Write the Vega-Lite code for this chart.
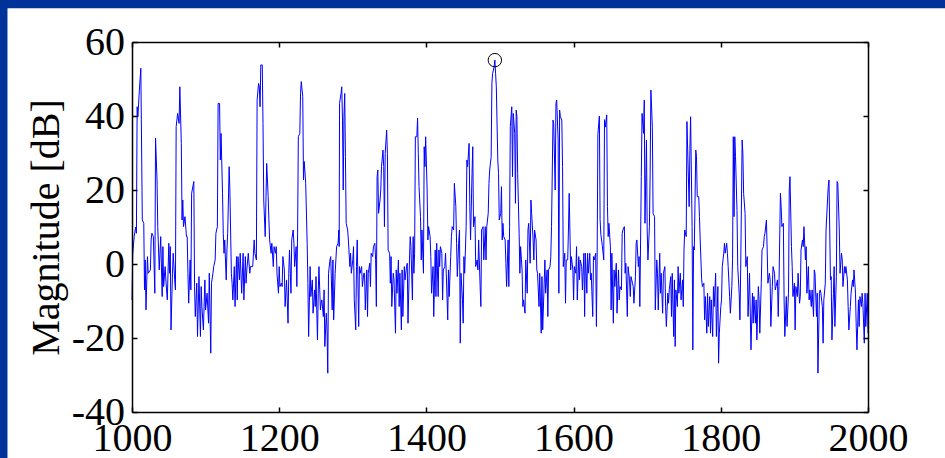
{
  "$schema": "https://vega.github.io/schema/vega-lite/v6.json",
  "width": 736,
  "height": 370,
  "autosize": {"type": "none"},
  "padding": {"left": 132, "top": 42, "right": 77, "bottom": 46},
  "background": "#003399",
  "config": {
    "view": {"stroke": null},
    "axis": {
      "grid": false,
      "domainColor": "black",
      "domainWidth": 1.5,
      "tickColor": "black",
      "tickWidth": 1.5,
      "tickSize": -5,
      "labelFont": "Liberation Serif",
      "labelFontSize": 40,
      "labelColor": "black",
      "labelFlush": false,
      "labelOverlap": false,
      "titleFont": "Liberation Serif",
      "titleFontSize": 40,
      "titleFontWeight": "normal",
      "titleColor": "black"
    }
  },
  "datasets": {
    "spectrum": [
{"f":1000,"m":-9.7},{"f":1001,"m":2.9},{"f":1003,"m":7.4},{"f":1005,"m":10},{"f":1006,"m":8.3},{"f":1007,"m":42.5},{"f":1008,"m":39.8},{"f":1010,"m":47},{"f":1012,"m":52.9},{"f":1014,"m":11.9},{"f":1016,"m":11},{"f":1017,"m":-7},{"f":1018,"m":1.1},{"f":1019,"m":-12.4},{"f":1021,"m":2},{"f":1022,"m":-2.5},{"f":1025,"m":-1.6},{"f":1026,"m":6.5},{"f":1027,"m":8.3},{"f":1029,"m":7.4},{"f":1031,"m":-7.9},{"f":1032,"m":34},{"f":1034,"m":22.7},{"f":1035,"m":10.1},{"f":1037,"m":-1.6},{"f":1039,"m":7.4},{"f":1041,"m":-8.8},{"f":1042,"m":4.7},{"f":1043,"m":-6.1},{"f":1045,"m":-0.7},{"f":1046,"m":-4.3},{"f":1048,"m":-9.7},{"f":1050,"m":5.6},{"f":1051,"m":-2.5},{"f":1052,"m":4.7},{"f":1053,"m":-17.8},{"f":1055,"m":-2.5},{"f":1056,"m":2.9},{"f":1058,"m":-4.3},{"f":1059,"m":-7},{"f":1060,"m":37.1},{"f":1062,"m":40.7},{"f":1064,"m":38},{"f":1065,"m":47.9},{"f":1067,"m":32.6},{"f":1068,"m":11.9},{"f":1069,"m":17.3},{"f":1070,"m":10.1},{"f":1072,"m":12.8},{"f":1074,"m":7.4},{"f":1075,"m":7.4},{"f":1076,"m":-2.5},{"f":1077,"m":-10.6},{"f":1079,"m":1.1},{"f":1080,"m":-7},{"f":1081,"m":19.1},{"f":1084,"m":22.3},{"f":1085,"m":-6.1},{"f":1086,"m":-14.2},{"f":1088,"m":-5.2},{"f":1089,"m":-19.6},{"f":1091,"m":-3.4},{"f":1093,"m":-19.6},{"f":1094,"m":-6.1},{"f":1095,"m":-11.5},{"f":1097,"m":-17.8},{"f":1099,"m":-4.3},{"f":1100,"m":-12.4},{"f":1102,"m":-7.9},{"f":1104,"m":-16},{"f":1105,"m":-2.5},{"f":1107,"m":-24.1},{"f":1108,"m":-5.2},{"f":1110,"m":-2.5},{"f":1111,"m":-0.7},{"f":1113,"m":1.1},{"f":1114,"m":8.3},{"f":1116,"m":10.1},{"f":1117,"m":43.4},{"f":1119,"m":43.4},{"f":1120,"m":28.1},{"f":1121,"m":35.3},{"f":1123,"m":19.1},{"f":1124,"m":8.3},{"f":1125,"m":2.9},{"f":1126,"m":6.5},{"f":1128,"m":-4.3},{"f":1129,"m":3.8},{"f":1130,"m":8.3},{"f":1132,"m":26.3},{"f":1133,"m":20},{"f":1135,"m":-2.5},{"f":1136,"m":-5.2},{"f":1137,"m":-9.7},{"f":1139,"m":-0.7},{"f":1140,"m":-11.5},{"f":1142,"m":2},{"f":1143,"m":-9.7},{"f":1144,"m":2},{"f":1146,"m":-4.3},{"f":1147,"m":2.9},{"f":1149,"m":-7.9},{"f":1151,"m":2.9},{"f":1152,"m":-9.7},{"f":1154,"m":2},{"f":1155,"m":-5.2},{"f":1156,"m":-1.6},{"f":1158,"m":2.9},{"f":1160,"m":-2.5},{"f":1161,"m":-0.7},{"f":1163,"m":-0.7},{"f":1164,"m":-0.7},{"f":1166,"m":6.5},{"f":1167,"m":2.9},{"f":1169,"m":1.1},{"f":1170,"m":44.3},{"f":1172,"m":48.8},{"f":1173,"m":47.9},{"f":1174,"m":42.5},{"f":1175,"m":53.8},{"f":1177,"m":53.8},{"f":1178,"m":38},{"f":1179,"m":17.3},{"f":1181,"m":7.4},{"f":1182,"m":17.3},{"f":1183,"m":27.2},{"f":1185,"m":18.2},{"f":1186,"m":11.9},{"f":1187,"m":6.5},{"f":1189,"m":2.9},{"f":1190,"m":5.6},{"f":1192,"m":-0.7},{"f":1193,"m":4.7},{"f":1195,"m":2.9},{"f":1196,"m":4.7},{"f":1197,"m":-2.5},{"f":1199,"m":-7.9},{"f":1200,"m":-0.7},{"f":1201,"m":-6.1},{"f":1203,"m":-5.2},{"f":1204,"m":-6.1},{"f":1205,"m":2},
{"f":1207,"m":-1.6},{"f":1208,"m":-11.5},{"f":1210,"m":-4.3},{"f":1212,"m":-16},{"f":1213,"m":-2.5},{"f":1214,"m":3.8},{"f":1216,"m":-7.9},{"f":1217,"m":6.5},{"f":1219,"m":9.2},{"f":1220,"m":5.6},{"f":1221,"m":-0.7},{"f":1223,"m":4.7},{"f":1224,"m":-6.1},{"f":1225,"m":8.3},{"f":1226,"m":34.4},{"f":1228,"m":35.3},{"f":1229,"m":46.1},{"f":1230,"m":49.3},{"f":1232,"m":45.2},{"f":1233,"m":22.7},{"f":1234,"m":27.7},{"f":1236,"m":21.8},{"f":1238,"m":5.6},{"f":1239,"m":-5.2},{"f":1240,"m":-19.6},{"f":1242,"m":-0.7},{"f":1243,"m":-8.8},{"f":1245,"m":-4.3},{"f":1246,"m":-13.3},{"f":1248,"m":-7},{"f":1249,"m":-11.5},{"f":1250,"m":-3.4},{"f":1252,"m":-20.5},{"f":1253,"m":-7.9},{"f":1254,"m":-0.7},{"f":1256,"m":-12.4},{"f":1257,"m":-10.6},{"f":1258,"m":-9.7},{"f":1260,"m":-14.2},{"f":1261,"m":-7},{"f":1262,"m":-22.3},{"f":1264,"m":-13.3},{"f":1265,"m":-17.8},{"f":1266,"m":-29.5},{"f":1267,"m":-2.5},{"f":1269,"m":1.1},{"f":1270,"m":2},{"f":1272,"m":-12.4},{"f":1273,"m":1.1},{"f":1274,"m":-15.1},{"f":1276,"m":-2.5},{"f":1277,"m":1.1},{"f":1278,"m":4.7},{"f":1280,"m":5.6},{"f":1281,"m":9.2},{"f":1281.5,"m":4.7},{"f":1282,"m":43.4},{"f":1284,"m":46.1},{"f":1285,"m":47.9},{"f":1286,"m":38.9},{"f":1287,"m":20},{"f":1288,"m":39.8},{"f":1289,"m":46.1},{"f":1290,"m":29},{"f":1291,"m":11},{"f":1293,"m":9.2},{"f":1294,"m":6.5},{"f":1296,"m":-0.7},{"f":1297,"m":2.9},{"f":1298,"m":-2.5},{"f":1300,"m":1.1},{"f":1301,"m":4.7},{"f":1302,"m":-9.7},{"f":1304,"m":-17.8},{"f":1305,"m":-0.7},{"f":1306,"m":6.5},{"f":1308,"m":-16.9},{"f":1309,"m":-0.7},{"f":1310,"m":-2.5},{"f":1312,"m":-0.7},{"f":1313,"m":-6.1},{"f":1315,"m":-2.5},{"f":1316,"m":-2.5},{"f":1317,"m":-12.4},{"f":1319,"m":-1.6},{"f":1320,"m":-14.2},{"f":1321,"m":-2.5},{"f":1323,"m":0.2},{"f":1324,"m":-6.1},{"f":1325,"m":2.9},{"f":1327,"m":2},{"f":1328,"m":4.7},{"f":1330,"m":5.6},{"f":1331,"m":1.1},{"f":1332,"m":-11.5},{"f":1333,"m":23.6},{"f":1334,"m":25.4},{"f":1335,"m":13.7},{"f":1337,"m":17.3},{"f":1338,"m":20},{"f":1339,"m":26.3},{"f":1341,"m":30.8},{"f":1342,"m":26.3},{"f":1343,"m":10.1},{"f":1344,"m":29.9},{"f":1346,"m":36.2},{"f":1347,"m":29.9},{"f":1348,"m":3.8},{"f":1350,"m":2.9},{"f":1351,"m":-5.2},{"f":1352,"m":2},{"f":1353,"m":-11.5},{"f":1355,"m":-2.5},{"f":1356,"m":-4.3},{"f":1358,"m":-18.7},{"f":1359,"m":-1.6},{"f":1360,"m":-7.9},{"f":1362,"m":1.1},{"f":1363,"m":-11.5},{"f":1364,"m":-2.5},{"f":1366,"m":-17.8},{"f":1367,"m":-1.6},{"f":1368,"m":-14.2},{"f":1370,"m":-0.7},{"f":1371,"m":-4.3},{"f":1373,"m":-0.7},{"f":1374,"m":0.2},{"f":1375,"m":-16},{"f":1377,"m":1.1},{"f":1378,"m":7.4},{"f":1379,"m":4.7},{"f":1381,"m":-9.7},{"f":1382,"m":7.4},{"f":1383,"m":-2.5},{"f":1384,"m":2.9},{"f":1385,"m":34.4},{"f":1387,"m":34.4},{"f":1388,"m":39.4},{"f":1389,"m":29.9},{"f":1390,"m":20.9},{"f":1392,"m":12.8},{"f":1393,"m":1.1},{"f":1394,"m":9.2},{"f":1396,"m":-2.5},{"f":1397,"m":31.7},{"f":1398,"m":26.3},{"f":1399,"m":34.4},{"f":1401,"m":20},{"f":1402,"m":6.5},{"f":1403,"m":10.1},{"f":1405,"m":7.4},{"f":1406,"m":2},{"f":1407,"m":-7.9},{"f":1409,"m":-0.7},{"f":1410,"m":-14.2},{"f":1412,"m":3.8},{"f":1413,"m":-8.8},{"f":1414,"m":5.6},{"f":1416,"m":-8.8},{"f":1417,"m":3.8},
{"f":1418,"m":-0.7},{"f":1419,"m":4.7},{"f":1421,"m":2.9},{"f":1422,"m":-9.7},{"f":1423,"m":-1.6},{"f":1425,"m":-0.7},{"f":1426,"m":2.9},{"f":1427,"m":-2.5},{"f":1429,"m":-15.1},{"f":1430,"m":-1.6},{"f":1431,"m":-8.8},{"f":1433,"m":2},{"f":1434,"m":7.4},{"f":1435,"m":10.1},{"f":1437,"m":9.2},{"f":1438,"m":21.8},{"f":1440,"m":15.5},{"f":1441,"m":5.6},{"f":1442,"m":-3.4},{"f":1444,"m":6.5},{"f":1445,"m":9.2},{"f":1446,"m":-21.4},{"f":1447,"m":-2.5},{"f":1449,"m":-9.7},{"f":1450,"m":-16},{"f":1451,"m":2},{"f":1452,"m":-2.5},{"f":1454,"m":10.1},{"f":1455,"m":28.1},{"f":1456,"m":26.3},{"f":1458,"m":32.6},{"f":1459,"m":15.5},{"f":1460,"m":6.5},{"f":1462,"m":24.5},{"f":1463,"m":31.7},{"f":1464,"m":10.1},{"f":1466,"m":12.8},{"f":1467,"m":-0.7},{"f":1469,"m":1.1},{"f":1470,"m":-1.6},{"f":1471,"m":6.5},{"f":1473,"m":-6.1},{"f":1474,"m":-11.5},{"f":1475,"m":9.2},{"f":1477,"m":10.1},{"f":1478,"m":1.1},{"f":1480,"m":10.1},{"f":1481,"m":1.1},{"f":1482,"m":10.1},{"f":1484,"m":13.7},{"f":1485,"m":21.8},{"f":1486,"m":25.4},{"f":1488,"m":29},{"f":1489,"m":48.8},{"f":1490,"m":51.5},{"f":1492,"m":53.3},{"f":1493,"m":55.1},{"f":1494,"m":51.5},{"f":1495,"m":47.9},{"f":1497,"m":28.1},{"f":1498,"m":24.5},{"f":1499,"m":11.9},{"f":1501,"m":13.7},{"f":1502,"m":20.9},{"f":1503,"m":6.5},{"f":1504,"m":11},{"f":1505,"m":7.4},{"f":1507,"m":6.5},{"f":1508,"m":0.2},{"f":1509,"m":-6.1},{"f":1511,"m":6.5},{"f":1512,"m":-6.1},{"f":1513,"m":10.1},{"f":1514,"m":37.1},{"f":1516,"m":42.5},{"f":1517,"m":23.6},{"f":1518,"m":40.7},{"f":1520,"m":35.3},{"f":1521,"m":16.4},{"f":1522,"m":41.6},{"f":1523,"m":39.8},{"f":1524,"m":24.5},{"f":1526,"m":8.3},{"f":1527,"m":-2.5},{"f":1528,"m":4.7},{"f":1530,"m":-1.6},{"f":1531,"m":-11.5},{"f":1532,"m":-9.7},{"f":1534,"m":-13.3},{"f":1535,"m":1.1},{"f":1537,"m":-7.9},{"f":1538,"m":9.2},{"f":1539,"m":11},{"f":1541,"m":0.2},{"f":1542,"m":17.3},{"f":1543,"m":13.7},{"f":1545,"m":6.5},{"f":1546,"m":1.1},{"f":1547,"m":9.2},{"f":1549,"m":6.5},{"f":1550,"m":-1.6},{"f":1551,"m":-2.5},{"f":1553,"m":-11.5},{"f":1554,"m":-2.5},{"f":1556,"m":-18.7},{"f":1557,"m":-3.4},{"f":1558,"m":-17.8},{"f":1560,"m":-5.2},{"f":1561,"m":1.1},{"f":1562,"m":-7.9},{"f":1564,"m":-1.6},{"f":1565,"m":-14.2},{"f":1566,"m":-1.6},{"f":1568,"m":-0.7},{"f":1569,"m":2},{"f":1570,"m":10.1},{"f":1572,"m":38.9},{"f":1573,"m":38},{"f":1575,"m":20},{"f":1576,"m":43.4},{"f":1577,"m":44.3},{"f":1579,"m":33.5},{"f":1580,"m":-7.9},{"f":1581,"m":41.6},{"f":1582,"m":39.8},{"f":1584,"m":38.9},{"f":1585,"m":26.3},{"f":1586,"m":-0.7},{"f":1588,"m":2.9},{"f":1589,"m":-10.6},{"f":1590,"m":1.1},{"f":1592,"m":1.1},{"f":1593,"m":9.2},{"f":1594,"m":19.1},{"f":1596,"m":-1.6},{"f":1597,"m":2},{"f":1599,"m":-1.6},{"f":1600,"m":-9.7},{"f":1601,"m":-0.7},{"f":1603,"m":-2.5},{"f":1604,"m":4.7},{"f":1605,"m":-9.7},{"f":1607,"m":2},{"f":1608,"m":-4.3},{"f":1609,"m":1.1},{"f":1611,"m":-0.7},{"f":1612,"m":-7},{"f":1614,"m":2.9},{"f":1615,"m":-14.2},{"f":1616,"m":2.9},{"f":1618,"m":-7.9},{"f":1619,"m":2.9},{"f":1620,"m":-2.5},{"f":1622,"m":2.9},{"f":1623,"m":-4.3},{"f":1624,"m":-2.5},{"f":1626,"m":-14.2},{"f":1627,"m":2},{"f":1628,"m":1.1},{"f":1630,"m":2.9},{"f":1631,"m":-16.9},{"f":1632,"m":2},
{"f":1633,"m":35},{"f":1635,"m":40},{"f":1636,"m":12},{"f":1637,"m":8},{"f":1639,"m":5},{"f":1641,"m":1.1},{"f":1642,"m":39},{"f":1643,"m":37},{"f":1645,"m":40.3},{"f":1646,"m":15.5},{"f":1647,"m":7.4},{"f":1648,"m":11},{"f":1650,"m":4.7},{"f":1651,"m":-12.4},{"f":1652,"m":2.9},{"f":1654,"m":-16},{"f":1655,"m":-1.6},{"f":1656,"m":-6.1},{"f":1658,"m":0.2},{"f":1659,"m":-13.3},{"f":1661,"m":-1.6},{"f":1662,"m":-9.7},{"f":1663,"m":-6.1},{"f":1665,"m":-7},{"f":1666,"m":8.3},{"f":1667,"m":9.2},{"f":1669,"m":10.1},{"f":1670,"m":-2.5},{"f":1671,"m":0.2},{"f":1673,"m":-14.2},{"f":1674,"m":-0.7},{"f":1676,"m":-4.3},{"f":1677,"m":-8.8},{"f":1678,"m":-3.4},{"f":1680,"m":-5.2},{"f":1681,"m":-6.1},{"f":1682,"m":-10.6},{"f":1684,"m":-3.4},{"f":1685,"m":5.6},{"f":1686,"m":6.5},{"f":1688,"m":-0.7},{"f":1689,"m":2},{"f":1690,"m":-11.5},{"f":1692,"m":23.6},{"f":1693,"m":40.7},{"f":1695,"m":35.3},{"f":1696,"m":44.3},{"f":1697,"m":11},{"f":1699,"m":33.5},{"f":1700,"m":9.2},{"f":1701,"m":1.1},{"f":1703,"m":10.1},{"f":1704,"m":24.5},{"f":1705,"m":47},{"f":1707,"m":37.1},{"f":1708,"m":13.7},{"f":1710,"m":12.8},{"f":1711,"m":-12.4},{"f":1713,"m":1.1},{"f":1714,"m":-2.5},{"f":1715,"m":-12.4},{"f":1717,"m":2.9},{"f":1718,"m":-7.9},{"f":1719,"m":-2.5},{"f":1721,"m":-13.3},{"f":1722,"m":-2.5},{"f":1724,"m":-0.7},{"f":1725,"m":-11.5},{"f":1726,"m":-16.9},{"f":1728,"m":-7.9},{"f":1729,"m":-10.6},{"f":1730,"m":-7},{"f":1732,"m":-3.4},{"f":1733,"m":-14.2},{"f":1734,"m":-2.5},{"f":1736,"m":-19.6},{"f":1737,"m":-4.3},{"f":1738,"m":-22.3},{"f":1739,"m":-7},{"f":1741,"m":-11.5},{"f":1742,"m":-0.7},{"f":1743,"m":-7.9},{"f":1745,"m":-2.5},{"f":1746,"m":-9.7},{"f":1748,"m":-4.3},{"f":1749,"m":-11.5},{"f":1750,"m":3.8},{"f":1751,"m":9.2},{"f":1753,"m":7.4},{"f":1754,"m":38.5},{"f":1755,"m":30.8},{"f":1757,"m":15.5},{"f":1758,"m":30.8},{"f":1759,"m":39.8},{"f":1761,"m":10.1},{"f":1762,"m":-23.2},{"f":1763,"m":4.7},{"f":1764,"m":3.8},{"f":1766,"m":30.8},{"f":1767,"m":29},{"f":1768,"m":18.2},{"f":1770,"m":18.2},{"f":1771,"m":12.8},{"f":1772,"m":6.5},{"f":1774,"m":-4.3},{"f":1775,"m":-6.1},{"f":1777,"m":-5.2},{"f":1778,"m":-15.1},{"f":1779,"m":-8.8},{"f":1781,"m":-18.7},{"f":1782,"m":-7.9},{"f":1783,"m":-16.9},{"f":1785,"m":-8.8},{"f":1786,"m":-18.7},{"f":1787,"m":-9.7},{"f":1789,"m":-19.6},{"f":1790,"m":-6.1},{"f":1791,"m":-11.5},{"f":1793,"m":-2.5},{"f":1794,"m":-19.6},{"f":1796,"m":-6.1},{"f":1797,"m":-26.8},{"f":1798,"m":-18.7},{"f":1800,"m":-11.5},{"f":1801,"m":-9.7},{"f":1802,"m":-0.7},{"f":1804,"m":2.9},{"f":1805,"m":5.6},{"f":1806,"m":2.9},{"f":1808,"m":5.6},{"f":1809,"m":2.9},{"f":1810,"m":-0.7},{"f":1812,"m":-8.8},{"f":1813,"m":-13.3},{"f":1815,"m":-6.1},{"f":1816,"m":1.1},{"f":1817,"m":34.4},{"f":1818,"m":12.8},{"f":1819,"m":34.4},{"f":1820,"m":29},{"f":1822,"m":14.5},{"f":1823,"m":-0.7},{"f":1825,"m":-7.9},{"f":1826,"m":-15.1},{"f":1827,"m":-1.6},{"f":1829,"m":33.5},{"f":1830,"m":29.9},{"f":1831,"m":19.1},{"f":1833,"m":13.7},
{"f":1834,"m":-0.7},{"f":1836,"m":2},{"f":1837,"m":-14.2},{"f":1839,"m":-2.5},{"f":1841,"m":-23.2},{"f":1843,"m":-7.9},{"f":1844,"m":-16},{"f":1845,"m":-8.8},{"f":1847,"m":-16},{"f":1848,"m":-9.7},{"f":1849,"m":-20.5},{"f":1851,"m":-6.1},{"f":1852,"m":-9.7},{"f":1853,"m":-18.7},{"f":1855,"m":-5.2},{"f":1856,"m":3.8},{"f":1858,"m":4.7},{"f":1859,"m":7.4},{"f":1860,"m":8.3},{"f":1862,"m":11.9},{"f":1863,"m":3.8},{"f":1864,"m":-5.2},{"f":1866,"m":-2.5},{"f":1867,"m":-4.3},{"f":1868,"m":-16.9},{"f":1870,"m":-6.1},{"f":1871,"m":-0.7},{"f":1873,"m":-2.5},{"f":1874,"m":-7},{"f":1875,"m":-6.1},{"f":1877,"m":-4.3},{"f":1878,"m":-14.2},{"f":1879,"m":-6.1},{"f":1881,"m":19.1},{"f":1882,"m":15.5},{"f":1883,"m":10.1},{"f":1885,"m":11},{"f":1886,"m":-9.7},{"f":1887,"m":-19.6},{"f":1889,"m":-8.8},{"f":1890,"m":-16.9},{"f":1892,"m":-7.9},{"f":1893,"m":20},{"f":1894,"m":23.6},{"f":1896,"m":4.7},{"f":1897,"m":-0.7},{"f":1898,"m":-8.8},{"f":1900,"m":-5.2},{"f":1901,"m":-17.8},{"f":1902,"m":-6.1},{"f":1904,"m":-8.8},{"f":1905,"m":-2.5},{"f":1907,"m":-10.6},{"f":1908,"m":-8.8},{"f":1909,"m":3.8},{"f":1911,"m":6.5},{"f":1912,"m":4.7},{"f":1913,"m":10.1},{"f":1915,"m":1.1},{"f":1916,"m":4.7},{"f":1917,"m":-7.9},{"f":1919,"m":-0.7},{"f":1920,"m":-9.7},{"f":1921,"m":-7},{"f":1923,"m":-11.5},{"f":1924,"m":-7},{"f":1926,"m":-14.2},{"f":1927,"m":-1.6},{"f":1928,"m":-2.5},{"f":1930,"m":-14.2},{"f":1931,"m":-7.9},{"f":1932,"m":-29.5},{"f":1934,"m":-7.9},{"f":1935,"m":-7},{"f":1936,"m":-7.9},{"f":1938,"m":-11.5},{"f":1939,"m":-21.4},{"f":1940,"m":-9.7},{"f":1942,"m":-5.2},{"f":1943,"m":9.2},{"f":1945,"m":17.3},{"f":1946,"m":20.9},{"f":1947,"m":22.7},{"f":1949,"m":-4.3},{"f":1950,"m":-3.4},{"f":1951,"m":-20.5},{"f":1953,"m":-7.9},{"f":1954,"m":-0.7},{"f":1955,"m":-16.9},{"f":1957,"m":-3.4},{"f":1958,"m":22.3},{"f":1959,"m":21.8},{"f":1961,"m":9.2},{"f":1962,"m":-2.5},{"f":1964,"m":2.9},{"f":1965,"m":1.1},{"f":1966,"m":-6.1},{"f":1968,"m":-0.7},{"f":1969,"m":-2.5},{"f":1970,"m":-0.7},{"f":1972,"m":-4.3},{"f":1973,"m":-11.5},{"f":1974,"m":-17.8},{"f":1976,"m":-11.5},{"f":1977,"m":-7.9},{"f":1979,"m":-4.3},{"f":1980,"m":-6.1},{"f":1981,"m":-1.6},{"f":1983,"m":-7.9},{"f":1984,"m":-16.9},{"f":1985,"m":-23.2},{"f":1987,"m":-9.7},{"f":1988,"m":-16.9},{"f":1989,"m":-8.8},{"f":1991,"m":-11.5},{"f":1992,"m":-7.9},{"f":1993,"m":-10.6},{"f":1995,"m":-21.4},{"f":1996,"m":-7.9},{"f":1997,"m":-16.9},{"f":1999,"m":-7.9},{"f":2000,"m":-18.7}
    ],
    "peak": [{"f": 1493, "m": 55.1}]
  },
  "layer": [
    {
      "data": {"values": [{}]},
      "mark": {"type": "rect", "color": "white", "clip": false, "zindex": 0},
      "encoding": {
        "x": {"datum": 830.8, "type": "quantitative", "scale": {"domain": [1000, 2000], "nice": false, "zero": false}, "axis": null},
        "x2": {"datum": 2110},
        "y": {"datum": 69.1, "type": "quantitative", "scale": {"domain": [-40, 60], "nice": false, "zero": false}, "axis": null},
        "y2": {"datum": -60}
      }
    },
    {
      "data": {"name": "spectrum"},
      "mark": {"type": "line", "color": "#0000ff", "strokeWidth": 1, "zindex": 1},
      "encoding": {
        "x": {
          "field": "f", "type": "quantitative",
          "scale": {"domain": [1000, 2000], "nice": false, "zero": false},
          "axis": {"orient": "bottom", "zindex": 2, "values": [1000, 1200, 1400, 1600, 1800, 2000], "labelExpr": "'' + datum.value", "labelPadding": 11, "title": null}
        },
        "y": {
          "field": "m", "type": "quantitative",
          "scale": {"domain": [-40, 60], "nice": false, "zero": false},
          "axis": {"orient": "left", "zindex": 2, "values": [-40, -20, 0, 20, 40, 60], "labelExpr": "'' + datum.value", "labelPadding": 12.5, "title": "Magnitude [dB]", "titlePadding": 5}
        }
      }
    },
    {
      "data": {"name": "peak"},
      "mark": {"type": "point", "shape": "circle", "filled": false, "color": "black", "size": 180, "strokeWidth": 1, "opacity": 1, "zindex": 1},
      "encoding": {
        "x": {
          "field": "f", "type": "quantitative",
          "axis": {"orient": "top", "zindex": 2, "values": [1000, 1200, 1400, 1600, 1800, 2000], "labels": false, "title": null}
        },
        "y": {
          "field": "m", "type": "quantitative",
          "axis": {"orient": "right", "zindex": 2, "values": [-40, -20, 0, 20, 40, 60], "labels": false, "title": null}
        }
      }
    }
  ],
  "resolve": {"axis": {"x": "independent", "y": "independent"}}
}
